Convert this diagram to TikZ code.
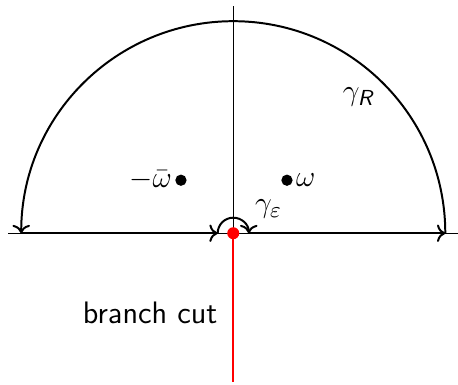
\documentclass[tikz,border=0pt]{standalone}
\usepackage{amsmath}
\usepackage{tikz}
\usetikzlibrary{arrows.meta,positioning}
\tikzset{
  axisline/.style={black,line width=0.4pt},
  contourline/.style={black,line width=0.8pt,->},
  cutline/.style={red,line width=0.9pt},
  pole/.style={circle,fill=black,inner sep=0pt,minimum size=0.16cm},
  polelabel/.style={inner sep=1pt}
}

\begin{document}
\begin{tikzpicture}[x=1cm,y=1cm,font=\sffamily\fontsize{12.5}{15}\selectfont]
\path[use as bounding box] (-3.3,-2.14) rectangle (3.18,3.3);
\coordinate (origin) at (0,0);
\coordinate (west) at (-3.18,0);
\coordinate (east) at (3.18,0);
\coordinate (north) at (0,3.22);
\coordinate (cutend) at (0,-2.1);
\coordinate (Rpos) at (3,0);
\coordinate (Rneg) at (-3,0);
\coordinate (epspos) at (0.22,0);
\coordinate (epsneg) at (-0.22,0);

% axes, with the cut along the negative imaginary axis
\draw[axisline] (west) -- (east);
\draw[axisline] (origin) -- (north);
\draw[cutline] (origin) -- (cutend);

% closed contour: gamma_R, the real segments and gamma_eps
\draw[contourline] (epspos) -- (Rpos);
\draw[contourline] (Rpos) arc (0:180:3);
\draw[contourline] (Rneg) -- (epsneg);
\draw[contourline] (epsneg) arc (180:0:0.22);

\node[circle,fill=red,inner sep=0pt,minimum size=0.17cm] (branchpt) at (origin) {};
\node[pole] (omega) at (0.76,0.75) {};
\node[pole] (omegabar) at (-0.74,0.75) {};
\node[polelabel,right=0pt of omega] (omegalabel) {$\omega$};
\node[polelabel,left=0pt of omegabar] (omegabarlabel) {$-\bar{\omega}$};
\node (gammaeps) at (0.5,0.34) {$\gamma_{\varepsilon}$};
\node (gammaR) at (1.78,1.93) {$\gamma_{\textsf{\textit{R}}}$};
\node[anchor=east] (cutlabel) at (-0.1,-1.12) {branch cut};
\end{tikzpicture}
\end{document}
